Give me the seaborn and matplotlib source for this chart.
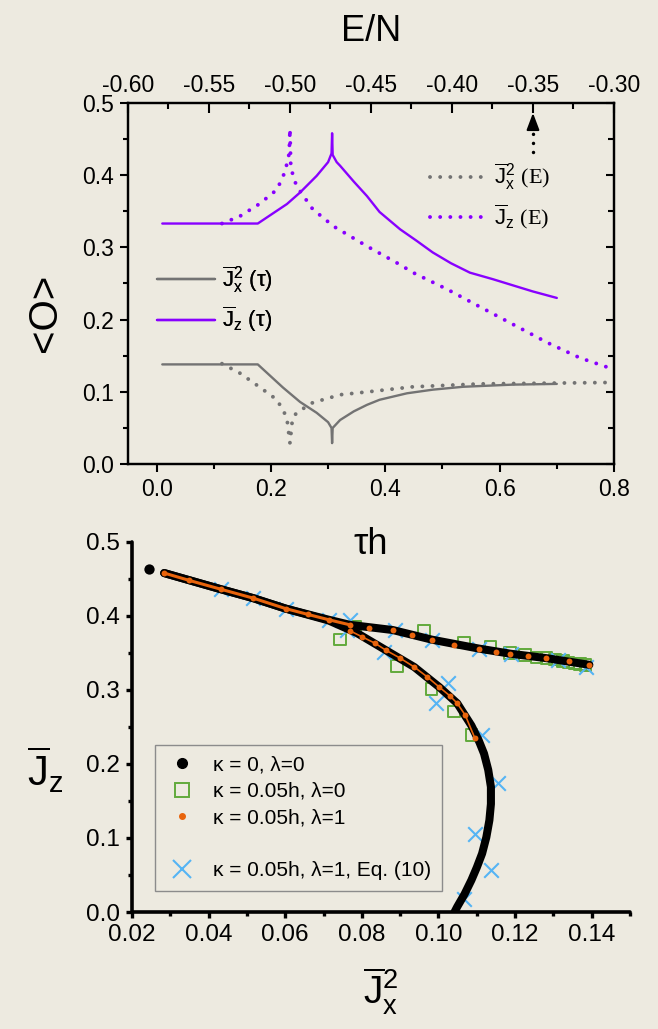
"""
Two stacked panels: <O> against tau*h and E/N (top), and the J_z - J_x^2
parametric curve for several kappa / lambda settings (bottom).
"""

import matplotlib as mpl
mpl.use('Agg')
import matplotlib.pyplot as plt
from matplotlib.lines import Line2D
from matplotlib.ticker import MultipleLocator, FormatStrFormatter
import seaborn as sns

# ----- colours
BG = '#EDEAE0'
PURPLE = '#8800FF'
GRAY = '#737373'
GREEN = '#62AA3C'
ORANGE = '#E8640C'
BLUE = '#55B4F4'

# ----- top panel, solid curves vs tau*h
TAU_JZ = [0.01, 0.177, 0.228, 0.251, 0.280, 0.300, 0.306, 0.307, 0.308,
          0.315, 0.321, 0.345, 0.368, 0.390, 0.426, 0.455, 0.483, 0.515,
          0.548, 0.588, 0.625, 0.658, 0.700]
JZ_TAU = [0.333, 0.333, 0.360, 0.376, 0.399, 0.418, 0.430, 0.458, 0.428,
          0.418, 0.413, 0.391, 0.371, 0.349, 0.325, 0.309, 0.293, 0.278,
          0.265, 0.256, 0.247, 0.239, 0.230]
TAU_JX2 = [0.01, 0.177, 0.221, 0.251, 0.280, 0.300, 0.306, 0.307, 0.308,
           0.321, 0.345, 0.368, 0.390, 0.438, 0.483, 0.536, 0.623, 0.700]
JX2_TAU = [0.138, 0.138, 0.106, 0.086, 0.071, 0.058, 0.050, 0.029, 0.050,
           0.061, 0.073, 0.082, 0.089, 0.098, 0.103, 0.107, 0.110, 0.111]

# ----- top panel, dotted curves vs E/N
E_JZ = [-0.542, -0.531, -0.519, -0.508, -0.503, -0.5005, -0.500, -0.4995,
        -0.496, -0.486, -0.473, -0.452, -0.432, -0.424, -0.403, -0.383,
        -0.362, -0.341, -0.321, -0.300]
JZ_E = [0.333, 0.343, 0.360, 0.380, 0.405, 0.430, 0.464, 0.410,
        0.385, 0.353, 0.329, 0.301, 0.276, 0.265, 0.242, 0.218,
        0.193, 0.168, 0.147, 0.131]
E_JX2 = [-0.542, -0.531, -0.519, -0.508, -0.502, -0.500, -0.4985, -0.496,
         -0.486, -0.469, -0.452, -0.432, -0.424, -0.383, -0.341, -0.300]
JX2_E = [0.139, 0.126, 0.107, 0.089, 0.065, 0.029, 0.062, 0.071,
         0.085, 0.096, 0.100, 0.105, 0.107, 0.111, 0.112, 0.113]

# ----- bottom panel, kappa = 0, lambda = 0 (two branches + cusp point)
UPPER_X = [0.0284, 0.0433, 0.0517, 0.0601, 0.0713, 0.0769, 0.0881, 0.0983,
           0.1105, 0.1188, 0.1282, 0.1394]
UPPER_Y = [0.458, 0.436, 0.424, 0.410, 0.395, 0.388, 0.381, 0.368,
           0.356, 0.349, 0.343, 0.334]
LOWER_X = [0.0284, 0.0433, 0.0517, 0.0601, 0.0713, 0.0787, 0.0862, 0.0937,
           0.1002, 0.1049, 0.1086, 0.1105, 0.1119, 0.1130, 0.1137, 0.1137,
           0.1133, 0.1125, 0.1114, 0.1100, 0.1086, 0.1068, 0.1049, 0.1042]
LOWER_Y = [0.458, 0.436, 0.424, 0.410, 0.394, 0.377, 0.354, 0.331,
           0.304, 0.282, 0.252, 0.232, 0.214, 0.192, 0.169, 0.146,
           0.124, 0.101, 0.079, 0.060, 0.043, 0.024, 0.007, 0.000]
CUSP_X = [0.0245]
CUSP_Y = [0.463]

# ----- kappa = 0.05h, lambda = 1 (orange dots)
OR_LEFT_X = [0.0284, 0.0350, 0.0433, 0.0517, 0.0601, 0.0660, 0.0713, 0.0769]
OR_LEFT_Y = [0.458, 0.448, 0.436, 0.424, 0.410, 0.402, 0.395, 0.388]
OR_RIGHT_X = [0.0820, 0.0881, 0.0930, 0.0983, 0.1040, 0.1105, 0.1150,
              0.1188, 0.1235, 0.1282, 0.1340, 0.1394]
OR_RIGHT_Y = [0.384, 0.381, 0.374, 0.368, 0.361, 0.356, 0.352,
              0.349, 0.346, 0.343, 0.339, 0.334]
OR_LO_X = [0.0769, 0.0800, 0.0835, 0.0862, 0.0900, 0.0937, 0.0970, 0.1002,
           0.1030, 0.1049, 0.1070, 0.1095]
OR_LO_Y = [0.380, 0.372, 0.363, 0.354, 0.343, 0.331, 0.318, 0.304,
           0.292, 0.282, 0.266, 0.235]

# ----- kappa = 0.05h, lambda = 0 (green squares)
SQ_X = [0.0743, 0.0783, 0.0963, 0.1066, 0.1136, 0.1187, 0.1226, 0.1256,
        0.1282, 0.1305, 0.1325, 0.1340, 0.1356, 0.1370, 0.1384,
        0.0892, 0.0982, 0.1041, 0.1086]
SQ_Y = [0.368, 0.386, 0.380, 0.364, 0.358, 0.350, 0.347, 0.344,
        0.343, 0.341, 0.339, 0.337, 0.336, 0.335, 0.334,
        0.332, 0.301, 0.271, 0.239]

# ----- kappa = 0.05h, lambda = 1, Eq. (10) (blue crosses)
X_X = [0.0433, 0.0517, 0.0601, 0.0713, 0.0769, 0.0760, 0.0886, 0.0982,
       0.1105, 0.1189, 0.1312, 0.1384, 0.0857, 0.1025, 0.0993, 0.1114,
       0.1156, 0.1095, 0.1137, 0.1067]
X_Y = [0.437, 0.424, 0.410, 0.395, 0.395, 0.381, 0.381, 0.368,
       0.355, 0.349, 0.340, 0.331, 0.352, 0.309, 0.282, 0.239,
       0.174, 0.106, 0.057, 0.018]

# ----- style
sns.set_theme(style='ticks', rc={'figure.facecolor': BG,
                                 'axes.facecolor': BG,
                                 'savefig.facecolor': BG,
                                 'axes.edgecolor': 'black',
                                 'xtick.color': 'black',
                                 'ytick.color': 'black',
                                 'text.color': 'black',
                                 'axes.labelcolor': 'black'})
plt.rcParams['font.family'] = ['Liberation Sans', 'DejaVu Sans']
plt.rcParams['mathtext.fontset'] = 'custom'
plt.rcParams['mathtext.rm'] = 'Liberation Sans'
plt.rcParams['mathtext.it'] = 'Liberation Sans:italic'
plt.rcParams['mathtext.bf'] = 'Liberation Serif'
plt.rcParams['axes.unicode_minus'] = False

JX2_LABEL = r'$\overline{\mathrm{J}}_{\mathrm{x}}^{2}$'
JZ_LABEL = r'$\overline{\mathrm{J}}_{\mathrm{z}}$'
DOTS = (0, (0.01, 2.6))

fig = plt.figure(figsize=(6.58, 10.29), dpi=100)

# ===== Upper panel =====
ax1 = fig.add_axes([0.1945, 0.549, 0.7386, 0.351])
sns.lineplot(x=TAU_JX2, y=JX2_TAU, sort=False, estimator=None, color=GRAY,
             lw=1.7, ax=ax1)
sns.lineplot(x=TAU_JZ, y=JZ_TAU, sort=False, estimator=None, color=PURPLE,
             lw=1.7, ax=ax1)
ax1.set_xlim(-0.05, 0.8)
ax1.set_ylim(0, 0.5)
ax1.xaxis.set_major_locator(MultipleLocator(0.2))
ax1.xaxis.set_minor_locator(MultipleLocator(0.1))
ax1.yaxis.set_major_locator(MultipleLocator(0.1))
ax1.yaxis.set_minor_locator(MultipleLocator(0.05))
ax1.xaxis.set_major_formatter(FormatStrFormatter('%.1f'))
ax1.yaxis.set_major_formatter(FormatStrFormatter('%.1f'))
ax1.tick_params(which='major', direction='out', length=6, width=1.5,
                labelsize=16.5, pad=4)
ax1.tick_params(which='minor', direction='out', length=3.5, width=1.5)
ax1.set_xlabel('τh', fontsize=26)
ax1.xaxis.set_label_coords(0.5, -0.175)
ax1.set_ylabel('<O>', fontsize=29)
ax1.yaxis.set_label_coords(-0.132, 0.42)

# right-hand ticks point inward
sec = ax1.secondary_yaxis('right')
sec.yaxis.set_major_locator(MultipleLocator(0.1))
sec.yaxis.set_minor_locator(MultipleLocator(0.05))
sec.tick_params(which='both', direction='in', labelright=False, width=1.5)
sec.tick_params(which='major', length=6)
sec.tick_params(which='minor', length=4)

# E/N axis on top
ax_e = ax1.twiny()
sns.lineplot(x=E_JX2, y=JX2_E, sort=False, estimator=None, color=GRAY,
             lw=2.8, ls=DOTS, dash_capstyle='round', ax=ax_e)
sns.lineplot(x=E_JZ, y=JZ_E, sort=False, estimator=None, color=PURPLE,
             lw=2.8, ls=DOTS, dash_capstyle='round', ax=ax_e)
ax_e.set_xlim(-0.6, -0.3)
ax_e.set_ylim(0, 0.5)
ax_e.xaxis.set_major_locator(MultipleLocator(0.05))
ax_e.xaxis.set_minor_locator(MultipleLocator(0.025))
ax_e.xaxis.set_major_formatter(FormatStrFormatter('%.2f'))
ax_e.tick_params(axis='x', which='major', direction='in', length=7, width=1.5,
                 labelsize=16.5, pad=4)
ax_e.tick_params(axis='x', which='minor', direction='in', length=4, width=1.5)
ax_e.set_xlabel('E/N', fontsize=26)
ax_e.xaxis.set_label_coords(0.5, 1.17)

for a in (ax1, ax_e):
    for s in a.spines.values():
        s.set_linewidth(1.6)

# dotted arrow at E/N = -0.35
ax_e.plot([-0.35, -0.35], [0.432, 0.466], color='black', lw=2.5, ls=DOTS,
          dash_capstyle='round')
ax_e.annotate('', xy=(-0.35, 0.49), xytext=(-0.35, 0.462),
              arrowprops=dict(arrowstyle='-|>,head_width=0.32,head_length=0.85',
                              color='black', lw=1.5))

leg_tau = ax1.legend(
    handles=[Line2D([], [], color=GRAY, lw=1.7),
             Line2D([], [], color=PURPLE, lw=1.7)],
    labels=[JX2_LABEL + ' (τ)', JZ_LABEL + ' (τ)'],
    loc='center left', bbox_to_anchor=(0.06, 0.456), frameon=False,
    fontsize=16, handlelength=2.6, handletextpad=0.3, borderpad=0,
    borderaxespad=0, labelspacing=0.45)
ax1.add_artist(leg_tau)
ax_e.legend(
    handles=[Line2D([], [], color=GRAY, lw=2.8, ls=DOTS, dash_capstyle='round'),
             Line2D([], [], color=PURPLE, lw=2.8, ls=DOTS, dash_capstyle='round')],
    labels=[JX2_LABEL + r' $\mathbf{(E)}$', JZ_LABEL + r' $\mathbf{(E)}$'],
    loc='center left', bbox_to_anchor=(0.621, 0.741), frameon=False,
    fontsize=16, handlelength=2.6, handletextpad=0.3, borderpad=0,
    borderaxespad=0, labelspacing=0.45)

# ===== Lower panel =====
ax2 = fig.add_axes([0.2006, 0.1137, 0.7568, 0.3596])
ax2.patch.set_visible(False)  # keep the tau*h label above visible
sns.lineplot(x=UPPER_X, y=UPPER_Y, sort=False, estimator=None, color='black',
             lw=5.8, solid_capstyle='round', ax=ax2)
sns.lineplot(x=LOWER_X, y=LOWER_Y, sort=False, estimator=None, color='black',
             lw=5.8, solid_capstyle='round', ax=ax2)
sns.scatterplot(x=CUSP_X, y=CUSP_Y, color='black', s=55, linewidth=0, ax=ax2)

sns.lineplot(x=OR_LEFT_X, y=OR_LEFT_Y, sort=False, estimator=None,
             color=ORANGE, lw=2.2, ax=ax2)
sns.lineplot(x=OR_LO_X, y=OR_LO_Y, sort=False, estimator=None, color=ORANGE,
             lw=1.2, ax=ax2)
sns.scatterplot(x=OR_LEFT_X + OR_RIGHT_X + OR_LO_X,
                y=OR_LEFT_Y + OR_RIGHT_Y + OR_LO_Y,
                color=ORANGE, s=18, linewidth=0, zorder=4, ax=ax2)

sns.scatterplot(x=SQ_X, y=SQ_Y, marker='s', s=70, ax=ax2)
squares = ax2.collections[-1]
squares.set_facecolor('none')
squares.set_edgecolor(GREEN)
squares.set_linewidth(1.4)

sns.scatterplot(x=X_X, y=X_Y, marker='x', s=110, color=BLUE, linewidth=1.5,
                ax=ax2)

ax2.set_xlim(0.02, 0.15)
ax2.set_ylim(0, 0.5)
ax2.xaxis.set_major_locator(MultipleLocator(0.02))
ax2.xaxis.set_minor_locator(MultipleLocator(0.01))
ax2.yaxis.set_major_locator(MultipleLocator(0.1))
ax2.yaxis.set_minor_locator(MultipleLocator(0.05))
ax2.xaxis.set_major_formatter(FormatStrFormatter('%.2f'))
ax2.yaxis.set_major_formatter(FormatStrFormatter('%.1f'))
ax2.tick_params(which='major', direction='out', length=4.5, width=2.4,
                labelsize=17.5, pad=4)
ax2.tick_params(which='minor', direction='out', length=3, width=2.4)
sns.despine(ax=ax2)
for s in ('left', 'bottom'):
    ax2.spines[s].set_linewidth(2.6)
    ax2.spines[s].set_capstyle('round')

ax2.set_xlabel(JX2_LABEL, fontsize=28)
ax2.xaxis.set_label_coords(0.5, -0.145)
ax2.set_ylabel(JZ_LABEL, fontsize=30, rotation=0, ha='center', va='center')
ax2.yaxis.set_label_coords(-0.175, 0.384)

blank = Line2D([], [], ls='none')
handles = [Line2D([], [], marker='o', color='black', ls='none', ms=7),
           Line2D([], [], marker='s', mfc='none', mec=GREEN, mew=1.4,
                  ls='none', ms=10),
           Line2D([], [], marker='o', color=ORANGE, ls='none', ms=4),
           blank,
           Line2D([], [], marker='x', color=BLUE, mew=1.5, ls='none', ms=13)]
labels = ['κ = 0, λ=0', 'κ = 0.05h, λ=0', 'κ = 0.05h, λ=1', ' ',
          'κ = 0.05h, λ=1, Eq. (10)']
leg = ax2.legend(handles=handles, labels=labels, loc='lower left',
                 bbox_to_anchor=(0.046, 0.057), frameon=True, fancybox=False,
                 edgecolor='#8C8C8C', facecolor=BG, framealpha=1,
                 fontsize=15, handlelength=1.6, handletextpad=0.7,
                 borderpad=0.5, labelspacing=0.36, borderaxespad=0)
leg.get_frame().set_linewidth(1.0)

fig.savefig('out.png', dpi=100)
